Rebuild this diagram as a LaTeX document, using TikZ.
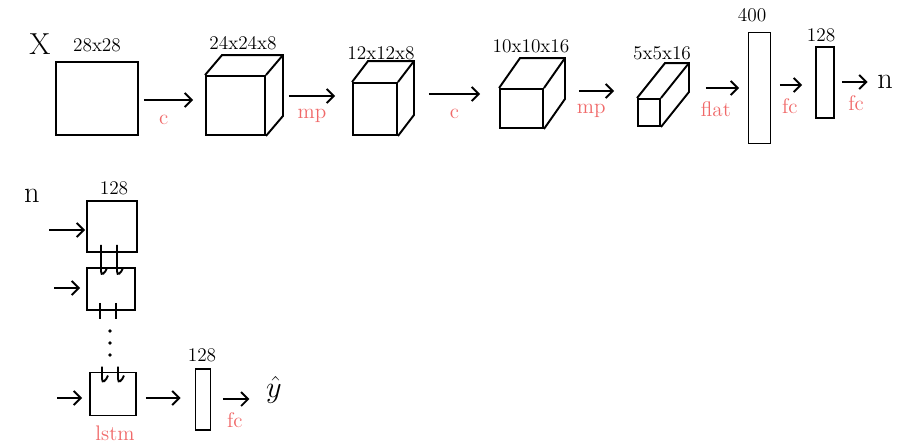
\documentclass[tikz,border=0pt]{standalone}
\usepackage{tikz}
\usetikzlibrary{positioning,arrows.meta,calc}
\definecolor{sketchred}{RGB}{240,105,105}

\begin{document}
\begin{tikzpicture}[x=0.02cm, y=-0.02cm, line width=1.1pt,
    layer/.style={rectangle, draw=black, line width=1.1pt, inner sep=0pt},
    dims/.style={font=\fontsize{11}{13}\selectfont, inner sep=1pt},
    op/.style={text=sketchred, font=\large, inner sep=1pt},
    arr/.style={-{Straight Barb[length=4pt,width=8pt]}},
    big/.style={font=\LARGE, inner sep=1pt}]
    \useasboundingbox (0,0) rectangle (911,446);

    % Define conv part
    \node[big] (X) at (40,44) {X};
    \node[layer, minimum width=1.64cm, minimum height=1.46cm] (input) at (97,98.5) {};
    \node[layer, minimum width=1.18cm, minimum height=1.18cm] (convA) at (235.5,105.5) {};
    \node[layer, minimum width=0.88cm, minimum height=1.04cm] (poolA) at (375,109) {};
    \node[layer, minimum width=0.86cm, minimum height=0.78cm] (convB) at (521.5,108.5) {};
    \node[layer, minimum width=0.44cm, minimum height=0.54cm] (poolB) at (649,112.5) {};
    \node[layer, minimum width=0.44cm, minimum height=2.22cm] (flat) at (759.5,88) {};
    \node[layer, minimum width=0.36cm, minimum height=1.42cm] (dense) at (825,82.5) {};
    \node[big] (nout) at (885,82) {n};

    % Define sizes
    \node[dims] (inputdim) at (97,45) {28x28};
    \node[dims] (convAdim) at (243,43) {24x24x8};
    \node[dims] (poolAdim) at (381,53) {12x12x8};
    \node[dims] (convBdim) at (531,46) {10x10x16};
    \node[dims] (poolBdim) at (662,53) {5x5x16};
    \node[dims] (flatdim) at (752,15) {400};
    \node[dims] (densedim) at (821,35) {128};

    % Depth of the cubes
    \draw (convA.north west) -- ++(17,-20) -- ($(convA.north east)+(17,-20)$) -- ($(convA.south east)+(17,-20)$) -- (convA.south east);
    \draw (convA.north east) -- ++(17,-20);
    \draw (poolA.north west) -- ++(16,-21) -- ($(poolA.north east)+(16,-21)$) -- ($(poolA.south east)+(16,-21)$) -- (poolA.south east);
    \draw (poolA.north east) -- ++(16,-21);
    \draw (convB.north west) -- ++(21,-30) -- ($(convB.north east)+(21,-30)$) -- ($(convB.south east)+(21,-30)$) -- (convB.south east);
    \draw (convB.north east) -- ++(21,-30);
    \draw (poolB.north west) -- ++(28,-35) -- ($(poolB.north east)+(28,-35)$) -- ($(poolB.south east)+(28,-35)$) -- (poolB.south east);
    \draw (poolB.north east) -- ++(28,-35);

    % Arrows between layers
    \draw[arr] ($(input.east)+(5,1.5)$) -- ($(input.east -| convA.west)+(-12,1.5)$) node[op, pos=0.4, below=7pt] {c};
    \draw[arr] ($(convA.east)+(23,-9.5)$) -- ($(convA.east -| poolA.west)+(-17,-9.5)$) node[op, pos=0.5, below=6pt] {mp};
    \draw[arr] ($(poolA.east)+(31,-15)$) -- ($(poolA.east -| convB.west)+(-19,-15)$) node[op, pos=0.5, below=7pt] {c};
    \draw[arr] ($(convB.east)+(35,-17.5)$) -- ($(convB.east -| poolB.west)+(-23,-17.5)$) node[op, pos=0.35, below=6pt] {mp};
    \draw[arr] ($(poolB.east)+(45,-24.5)$) -- ($(poolB.east -| flat.west)+(-8.5,-24.5)$) node[op, pos=0.3, below=6pt] {flat};
    \draw[arr] ($(flat.east)+(8.5,-3)$) -- ($(flat.east -| dense.west)+(-13,-3)$) node[op, pos=0.45, below=6pt] {fc};
    \draw[arr] ($(dense.east)+(7,-0.5)$) -- ($(dense.east -| nout.west)+(-7,-0.5)$) node[op, pos=0.55, below=6pt] {fc};

    % Define lstm part
    \node[big] (nin) at (32,196) {n};
    \node[layer, minimum width=1cm, minimum height=1.02cm] (lstmA) at (112,226.5) {};
    \node[layer, minimum width=0.96cm, minimum height=0.84cm] (lstmB) at (111,289) {};
    \node[layer, minimum width=0.92cm, minimum height=0.86cm] (lstmC) at (113,394) {};
    \node[op] (lstmlbl) at (115,433) {lstm};
    \node[layer, minimum width=0.3cm, minimum height=1.22cm] (out) at (203,399.5) {};
    \node[big] (yhat) at (274,390) {$\hat{y}$};
    \node[dims] (lstmAdim) at (114,188) {128};
    \node[dims] (outdim) at (202,355) {128};

    % Inputs of each step
    \draw[arr] ($(lstmA.west)+(-37,3.5)$) -- ($(lstmA.west)+(-1,3.5)$);
    \draw[arr] ($(lstmB.west)+(-32,-1)$) -- ($(lstmB.west)+(-6,-1)$);
    \draw[arr] ($(lstmC.west)+(-32,4)$) -- ($(lstmC.west)+(-7,4)$);

    % Links between steps
    \draw ($(lstmA.south)+(-11,-8)$) -- ($(lstmB.north -| lstmA.south)+(-11,4)$) .. controls +(0,6) and +(-2,5) .. +(6,-3);
    \draw ($(lstmA.south)+(5,-8)$) -- ($(lstmB.north -| lstmA.south)+(5,4)$) .. controls +(0,6) and +(-2,5) .. +(6,-3);
    \draw ($(lstmB.south)+(-11,-8)$) -- ($(lstmB.south)+(-11,8)$);
    \draw ($(lstmB.south)+(5,-8)$) -- ($(lstmB.south)+(5,8)$);
    \foreach \dy in {20,32,44} \fill ($(lstmB.south)+(-1,\dy)$) circle (1.1pt);
    \draw ($(lstmC.north)+(-11,-5)$) -- ($(lstmC.north)+(-11,7)$) .. controls +(0,6) and +(-2,5) .. +(6,-3);
    \draw ($(lstmC.north)+(5,-5)$) -- ($(lstmC.north)+(5,7)$) .. controls +(0,6) and +(-2,5) .. +(6,-3);

    % Output
    \draw[arr] ($(lstmC.east)+(9,4)$) -- ($(lstmC.east -| out.west)+(-14,4)$);
    \draw[arr] ($(out.east)+(11.5,-0.5)$) -- ($(out.east -| yhat.west)+(-14,-0.5)$) node[op, pos=0.45, below=6pt] {fc};
\end{tikzpicture}
\end{document}
